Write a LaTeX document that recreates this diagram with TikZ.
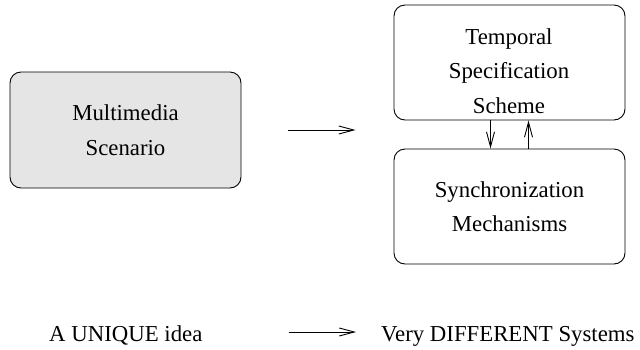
\documentclass[tikz,border=0pt]{standalone}
\usepackage{fontspec}
\setmainfont{Liberation Serif}
\usetikzlibrary{arrows.meta}
\definecolor{boxgrey}{HTML}{E5E5E5}
\tikzset{
  box/.style={draw, line width=0.9pt, rounded corners=11pt,
    minimum width=231pt, inner sep=0pt},
  label/.style={font=\fontsize{22.8}{34.5}\selectfont, align=center, inner sep=0pt},
  arr/.style={line width=0.9pt, -{Straight Barb[length=15pt,width=8pt,line width=0.9pt]}}
}
\begin{document}
\begin{tikzpicture}[x=1pt,y=-1pt]
\useasboundingbox (0,0) rectangle (640,349);

% boxes
\node[box, fill=boxgrey, minimum height=116pt] (ms) at (125.5,130) {};
\node[box, minimum height=115pt] (tss) at (509.5,62.5) {};
\node[box, minimum height=115pt] (sm) at (509.5,206.5) {};

% box texts
\node[label] (msText) at (125.5,130) {Multimedia\\Scenario};
\node[label] (tssText) at (509,70.7) {Temporal\\Specification\\Scheme};
\node[label] (smText) at (509.5,206.7) {Synchronization\\Mechanisms};

% connectors
\draw[arr, shorten <=47pt, shorten >=38pt] (ms.east) -- (ms.east -| tss.west);
\draw[arr] ([xshift=-19pt]tss.south) -- ([xshift=-19pt]sm.north);
\draw[arr] ([xshift=19pt]sm.north) -- ([xshift=19pt]tss.south);

% bottom line
\node[label, anchor=base west] (idea) at (49,341) {A UNIQUE idea};
\node[label, anchor=base west] (systems) at (381,341) {Very DIFFERENT Systems};
\draw[arr, shorten <=86pt, shorten >=25pt]
  ([yshift=9pt]idea.base east) -- ([yshift=9pt]systems.base west);
\end{tikzpicture}
\end{document}
